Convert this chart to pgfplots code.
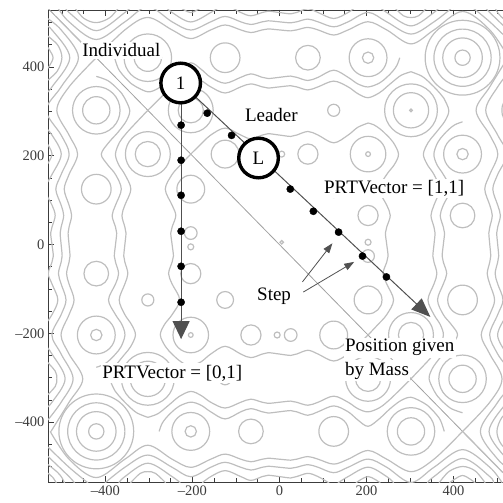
\documentclass[border=0pt]{standalone}
\usepackage{pgfplots}
\pgfplotsset{compat=1.18}
\usepackage{pgfplotstable}
\usepackage{fontspec}
\setmainfont{Liberation Serif}
\usetikzlibrary{arrows.meta}
\definecolor{ring}{RGB}{190,190,190}
\definecolor{axisgray}{RGB}{60,60,60}
\definecolor{linegray}{RGB}{80,80,80}

\pgfplotstableread{
x y r
-421 -421 17.4
-421 -421 45
-421 -421 65
-421 -421 85
421 421 17.4
421 421 45
421 421 65
421 421 85
-421 -203.8 12.9
-421 -203.8 43
-203.8 -421 12.9
-203.8 -421 43
421 203.8 12.9
421 203.8 43
203.8 421 12.9
203.8 421 43
-421 -65.5 28
-65.5 -421 28
421 65.5 28
65.5 421 28
-421 124.8 33.7
124.8 -421 33.7
421 -124.8 33.7
-124.8 421 33.7
-421 302.5 31
-421 302.5 54
302.5 -421 31
302.5 -421 54
421 -302.5 31
421 -302.5 54
-302.5 421 31
-302.5 421 54
-203.8 -203.8 5.4
-203.8 -203.8 40.4
203.8 203.8 5.4
203.8 203.8 40.4
-203.8 -65.5 22.9
-65.5 -203.8 22.9
203.8 65.5 22.9
65.5 203.8 22.9
-203.8 -5.2 6.8
-5.2 -203.8 6.8
203.8 5.2 6.8
5.2 203.8 6.8
-203.8 25.9 14.4
25.9 -203.8 14.4
203.8 -25.9 14.4
-25.9 203.8 14.4
-203.8 124.8 31.6
124.8 -203.8 31.6
203.8 -124.8 31.6
-124.8 203.8 31.6
-203.8 302.5 28.6
-203.8 302.5 51
302.5 -203.8 28.6
302.5 -203.8 51
203.8 -302.5 28.6
203.8 -302.5 51
-302.5 203.8 28.6
-302.5 203.8 51
124.8 124.8 19.1
-124.8 -124.8 19.1
124.8 302.5 13.7
302.5 124.8 13.7
-124.8 -302.5 13.7
-302.5 -124.8 13.7
302.5 302.5 3.1
302.5 302.5 40.1
302.5 302.5 60
-302.5 -302.5 3.1
-302.5 -302.5 40.1
-302.5 -302.5 60
5.2 5.2 4
}\rings

\begin{document}
\begin{tikzpicture}
\begin{axis}[
  scale only axis, width=455pt, height=472pt,
  xmin=-532, xmax=514, ymin=-535, ymax=528.5,
  axis x line=box, axis y line=left,
  axis line style={-, draw=axisgray, line width=0.8pt},
  xtick pos=both, ytick pos=left,
  xtick={-400,-200,0,200,400}, ytick={-400,-200,0,200,400},
  minor xtick={-500,-450,...,500}, minor ytick={-500,-450,...,500},
  xticklabels={\textendash400,\textendash200,0,200,400},
  yticklabels={\textendash400,\textendash200,0,200,400},
  tick style={draw=axisgray, line width=0.7pt},
  major tick length=6pt, minor tick length=4pt,
  tick align=inside,
  ticklabel style={font=\fontsize{14.5}{16}\selectfont, text=axisgray},
  clip marker paths=true,
  cont/.style={ring, line width=1.2pt, smooth, tension=0.55},
]
% ---------- contour-like background ----------
\addplot[scatter, only marks, mark=o,
  scatter/use mapped color={draw=ring},
  mark options={line width=1.2pt},
  visualization depends on={0.44*\thisrow{r} \as \rr},
  scatter/@pre marker code/.append style={/tikz/mark size=\rr}]
  table[x=x, y=y] {\rings};
\addplot[ring!85!black, line width=0.8pt] coordinates {(-532,532) (514,-514)};

% bottom band
\addplot[cont] coordinates {(-527,-421) (-483.6,-483.6) (-421,-525.1) (-355.3,-483.6) (-302.5,-452.1) (-246.7,-483.6) (-203.8,-502.0) (-157.9,-483.6) (-124.8,-472.1) (-88.8,-483.6) (-65.5,-489.3) (-39.5,-483.6) (-25.9,-481.4) (0,-483.6) (25.9,-485.8) (39.5,-483.6) (65.5,-477.7) (88.8,-483.6) (124.8,-494.7) (157.9,-483.6) (203.8,-464.0) (246.7,-483.6) (302.5,-511.7) (355.3,-483.6) (421,-421)};
\addplot[cont] coordinates {(421,-421) (483.6,-483.6) (514,-514.1)};
\addplot[cont] coordinates {(-532,-456.3) (-483.6,-501.8) (-440,-537)};
\addplot[cont] coordinates {(-401,-537) (-355.3,-501.8) (-302.5,-474.3) (-246.7,-501.8) (-203.8,-523.1) (-157.9,-501.8) (-124.8,-490.6) (-88.8,-501.8) (-65.5,-508.0) (-39.5,-501.8) (-25.9,-499.5) (0,-501.8) (25.9,-504.1) (39.5,-501.8) (65.5,-495.9) (88.8,-501.8) (124.8,-514.0) (157.9,-501.8) (203.8,-483.4) (246.7,-501.8) (302.5,-536) (355.3,-501.8) (421,-462.0) (483.6,-501.8) (512,-537)};
\addplot[cont] coordinates {(-532,-477.3) (-483.6,-522.8) (-471,-537)};
\addplot[cont] coordinates {(-369,-537) (-355.3,-522.8) (-302.5,-492.6) (-246.7,-522.8) (-228,-537)};
\addplot[cont] coordinates {(-177.5,-537) (-157.9,-522.8) (-124.8,-509.3) (-88.8,-522.8) (-65.5,-531.4) (-39.5,-522.8) (-25.9,-519.8) (0,-522.8) (25.9,-525.9) (39.5,-522.8) (65.5,-515.5) (88.8,-522.8) (114,-537)};
\addplot[cont] coordinates {(134.7,-537) (157.9,-522.8) (203.8,-501.6) (246.7,-522.8) (262.7,-537)};
\addplot[cont] coordinates {(340,-537) (355.3,-522.8) (421,-481.9) (483.6,-522.8) (492,-537)};
\addplot[cont] coordinates {(-532,-495.5) (-510,-513.3) (-500,-525.3) (-494,-537)};
\addplot[cont] coordinates {(-342.5,-537) (-320,-515.5) (-302.5,-511.6) (-285,-515.5) (-261.3,-537)};
\addplot[cont] coordinates {(176,-537) (203.8,-522.6) (232,-537)};
\addplot[cont] coordinates {(367,-537) (390,-511.2) (421,-500) (450,-510) (473,-537)};
\addplot[cont] coordinates {(-532,-515) (-520,-525.7) (-513,-537)};
\addplot[cont] coordinates {(391,-537) (421,-520.4) (450,-537)};

% top band
\addplot[cont] coordinates {(527,421) (483.6,483.6) (421,525.1) (355.3,483.6) (302.5,452.1) (246.7,483.6) (203.8,502.0) (157.9,483.6) (124.8,472.1) (88.8,483.6) (65.5,489.3) (39.5,483.6) (25.9,481.4) (0,483.6) (-25.9,485.8) (-39.5,483.6) (-65.5,477.7) (-88.8,483.6) (-124.8,494.7) (-157.9,483.6) (-203.8,464.0) (-246.7,483.6) (-302.5,511.7) (-355.3,483.6) (-421,421)};
\addplot[cont] coordinates {(-421,421) (-483.6,483.6) (-514,514.1)};
\addplot[cont] coordinates {(532,456.3) (483.6,501.8) (440,537)};
\addplot[cont] coordinates {(401,537) (355.3,501.8) (302.5,474.3) (246.7,501.8) (203.8,523.1) (157.9,501.8) (124.8,490.6) (88.8,501.8) (65.5,508.0) (39.5,501.8) (25.9,499.5) (0,501.8) (-25.9,504.1) (-39.5,501.8) (-65.5,495.9) (-88.8,501.8) (-124.8,514.0) (-157.9,501.8) (-203.8,483.4) (-246.7,501.8) (-302.5,536) (-355.3,501.8) (-421,462.0) (-483.6,501.8) (-512,537)};
\addplot[cont] coordinates {(532,477.3) (483.6,522.8) (471,537)};
\addplot[cont] coordinates {(369,537) (355.3,522.8) (302.5,492.6) (246.7,522.8) (228,537)};
\addplot[cont] coordinates {(177.5,537) (157.9,522.8) (124.8,509.3) (88.8,522.8) (65.5,531.4) (39.5,522.8) (25.9,519.8) (0,522.8) (-25.9,525.9) (-39.5,522.8) (-65.5,515.5) (-88.8,522.8) (-114,537)};
\addplot[cont] coordinates {(-134.7,537) (-157.9,522.8) (-203.8,501.6) (-246.7,522.8) (-262.7,537)};
\addplot[cont] coordinates {(-340,537) (-355.3,522.8) (-421,481.9) (-483.6,522.8) (-492,537)};
\addplot[cont] coordinates {(532,495.5) (510,513.3) (500,525.3) (494,537)};
\addplot[cont] coordinates {(342.5,537) (320,515.5) (302.5,511.6) (285,515.5) (261.3,537)};
\addplot[cont] coordinates {(-176,537) (-203.8,522.6) (-232,537)};
\addplot[cont] coordinates {(-367,537) (-390,511.2) (-421,500) (-450,510) (-473,537)};

% left band
\addplot[cont] coordinates {(-525.1,-421) (-483.6,-355.3) (-452.1,-302.5) (-483.6,-246.7) (-502.0,-203.8) (-483.6,-157.9) (-472.1,-124.8) (-483.6,-88.8) (-489.3,-65.5) (-483.6,-39.5) (-481.4,-25.9) (-483.6,0) (-485.8,25.9) (-483.6,39.5) (-477.7,65.5) (-483.6,88.8) (-494.7,124.8) (-483.6,157.9) (-464.0,203.8) (-483.6,246.7) (-511.7,302.5) (-483.6,355.3) (-421,421)};
\addplot[cont] coordinates {(-537,-401) (-501.8,-355.3) (-474.3,-302.5) (-501.8,-246.7) (-523.1,-203.8) (-501.8,-157.9) (-490.6,-124.8) (-501.8,-88.8) (-508.0,-65.5) (-501.8,-39.5) (-499.5,-25.9) (-501.8,0) (-504.1,25.9) (-501.8,39.5) (-495.9,65.5) (-501.8,88.8) (-514.0,124.8) (-501.8,157.9) (-483.4,203.8) (-501.8,246.7) (-536,302.5) (-501.8,355.3) (-462.0,421) (-501.8,483.6) (-537,512)};
\addplot[cont] coordinates {(-537,-369) (-522.8,-355.3) (-492.6,-302.5) (-522.8,-246.7) (-537,-228)};
\addplot[cont] coordinates {(-537,-177.5) (-522.8,-157.9) (-509.3,-124.8) (-522.8,-88.8) (-531.4,-65.5) (-522.8,-39.5) (-519.8,-25.9) (-522.8,0) (-525.9,25.9) (-522.8,39.5) (-515.5,65.5) (-522.8,88.8) (-537,114)};
\addplot[cont] coordinates {(-537,134.7) (-522.8,157.9) (-501.6,203.8) (-522.8,246.7) (-537,262.7)};
\addplot[cont] coordinates {(-537,340) (-522.8,355.3) (-481.9,421) (-522.8,483.6) (-537,492)};
\addplot[cont] coordinates {(-537,-342.5) (-515.5,-320) (-511.6,-302.5) (-515.5,-285) (-537,-261.3)};
\addplot[cont] coordinates {(-537,176) (-522.6,203.8) (-537,232)};
\addplot[cont] coordinates {(-537,367) (-511.2,390) (-500,421) (-510,450) (-537,473)};
\addplot[cont] coordinates {(-537,391) (-520.4,421) (-537,450)};

% right band
\addplot[cont] coordinates {(525.1,421) (483.6,355.3) (452.1,302.5) (483.6,246.7) (502.0,203.8) (483.6,157.9) (472.1,124.8) (483.6,88.8) (489.3,65.5) (483.6,39.5) (481.4,25.9) (483.6,0) (485.8,-25.9) (483.6,-39.5) (477.7,-65.5) (483.6,-88.8) (494.7,-124.8) (483.6,-157.9) (464.0,-203.8) (483.6,-246.7) (511.7,-302.5) (483.6,-355.3) (421,-421)};
\addplot[cont] coordinates {(537,401) (501.8,355.3) (474.3,302.5) (501.8,246.7) (523.1,203.8) (501.8,157.9) (490.6,124.8) (501.8,88.8) (508.0,65.5) (501.8,39.5) (499.5,25.9) (501.8,0) (504.1,-25.9) (501.8,-39.5) (495.9,-65.5) (501.8,-88.8) (514.0,-124.8) (501.8,-157.9) (483.4,-203.8) (501.8,-246.7) (536,-302.5) (501.8,-355.3) (462.0,-421) (501.8,-483.6) (537,-512)};
\addplot[cont] coordinates {(537,-340) (522.8,-355.3) (481.9,-421) (522.8,-483.6) (537,-492)};
\addplot[cont] coordinates {(537,-367) (511.2,-390) (500,-421) (510,-450) (537,-473)};
\addplot[cont] coordinates {(537,342.5) (515.5,320) (511.6,302.5) (515.5,285) (537,261.3)};
\addplot[cont] coordinates {(537,-134.7) (522.8,-157.9) (501.6,-203.8) (522.8,-246.7) (537,-262.7)};

% inner bands next to the outer extrema
\addplot[cont] coordinates {(-302.5,-389.4) (-326.4,-380) (-339.6,-370) (-355.3,-355.3) (-369.7,-340) (-377.8,-330) (-389.4,-302.5) (-381.5,-280) (-366.4,-260) (-355.3,-246.7) (-342.0,-230) (-330.9,-203.8) (-340.1,-180) (-355.3,-157.9) (-368.3,-124.8) (-355.3,-88.8) (-348.4,-65.5) (-355.3,-39.5) (-357.8,-25.9) (-355.3,0) (-352.7,25.9) (-355.3,39.5) (-362.0,65.5) (-355.3,88.8) (-341.5,124.8) (-355.3,157.9) (-369.6,180) (-377.0,203.8) (-367.8,230) (-355.3,246.7) (-343.5,260) (-324.3,280) (-302.5,302.5)};
\addplot[cont] coordinates {(-302.5,-389.4) (-280,-381.5) (-260,-366.4) (-246.7,-355.3) (-230,-342.0) (-203.8,-330.9) (-180,-340.1) (-157.9,-355.3) (-124.8,-368.3) (-88.8,-355.3) (-65.5,-348.4) (-39.5,-355.3) (-25.9,-357.8) (0,-355.3) (25.9,-352.7) (39.5,-355.3) (65.5,-362.0) (88.8,-355.3) (124.8,-341.5) (157.9,-355.3) (180,-369.6) (203.8,-377.0) (230,-367.8) (246.7,-355.3) (260,-343.5) (280,-324.3) (302.5,-302.5)};
\addplot[cont] coordinates {(302.5,389.4) (326.4,380) (339.6,370) (355.3,355.3) (369.7,340) (377.8,330) (389.4,302.5) (381.5,280) (366.4,260) (355.3,246.7) (342.0,230) (330.9,203.8) (340.1,180) (355.3,157.9) (368.3,124.8) (355.3,88.8) (348.4,65.5) (355.3,39.5) (357.8,25.9) (355.3,0) (352.7,-25.9) (355.3,-39.5) (362.0,-65.5) (355.3,-88.8) (341.5,-124.8) (355.3,-157.9) (369.6,-180) (377.0,-203.8) (367.8,-230) (355.3,-246.7) (343.5,-260) (324.3,-280) (302.5,-302.5)};
\addplot[cont] coordinates {(302.5,389.4) (280,381.5) (260,366.4) (246.7,355.3) (230,342.0) (203.8,330.9) (180,340.1) (157.9,355.3) (124.8,368.3) (88.8,355.3) (65.5,348.4) (39.5,355.3) (25.9,357.8) (0,355.3) (-25.9,352.7) (-39.5,355.3) (-65.5,362.0) (-88.8,355.3) (-124.8,341.5) (-157.9,355.3) (-180,369.6) (-203.8,377.0) (-230,367.8) (-246.7,355.3) (-260,343.5) (-280,324.3) (-302.5,302.5)};
\addplot[cont] coordinates {(-421,-276.6) (-403.5,-270) (-390,-260) (-376.8,-246.7) (-363.9,-230) (-355.1,-203.8) (-362.1,-180) (-376.8,-157.9) (-392.9,-124.8) (-376.8,-88.8) (-369.7,-65.5) (-376.8,-39.5) (-379.6,-25.9) (-376.8,0) (-374.1,25.9) (-376.8,39.5) (-384.6,65.5) (-376.8,88.8) (-363.5,124.8) (-376.8,157.9) (-395.0,180) (-409.5,203.8) (-392.3,230) (-376.8,246.7) (-365.3,260) (-351.1,280) (-344.1,302.5) (-355.8,330) (-362.1,340) (-376.8,355.3) (-395.6,370) (-421,379)};
\addplot[cont] coordinates {(-276.6,-421) (-270,-403.5) (-260,-390) (-246.7,-376.8) (-230,-363.9) (-203.8,-355.1) (-180,-362.1) (-157.9,-376.8) (-124.8,-392.9) (-88.8,-376.8) (-65.5,-369.7) (-39.5,-376.8) (-25.9,-379.6) (0,-376.8) (25.9,-374.1) (39.5,-376.8) (65.5,-384.6) (88.8,-376.8) (124.8,-363.5) (157.9,-376.8) (180,-395.0) (203.8,-409.5) (230,-392.3) (246.7,-376.8) (260,-365.3) (280,-351.1) (302.5,-344.1) (330,-355.8) (340,-362.1) (355.3,-376.8) (370,-395.6) (379,-421)};
\addplot[cont] coordinates {(421,276.6) (403.5,270) (390,260) (376.8,246.7) (363.9,230) (355.1,203.8) (362.1,180) (376.8,157.9) (392.9,124.8) (376.8,88.8) (369.7,65.5) (376.8,39.5) (379.6,25.9) (376.8,0) (374.1,-25.9) (376.8,-39.5) (384.6,-65.5) (376.8,-88.8) (363.5,-124.8) (376.8,-157.9) (395.0,-180) (409.5,-203.8) (392.3,-230) (376.8,-246.7) (365.3,-260) (351.1,-280) (344.1,-302.5) (355.8,-330) (362.1,-340) (376.8,-355.3) (395.6,-370) (421,-379)};
\addplot[cont] coordinates {(276.6,421) (270,403.5) (260,390) (246.7,376.8) (230,363.9) (203.8,355.1) (180,362.1) (157.9,376.8) (124.8,392.9) (88.8,376.8) (65.5,369.7) (39.5,376.8) (25.9,379.6) (0,376.8) (-25.9,374.1) (-39.5,376.8) (-65.5,384.6) (-88.8,376.8) (-124.8,363.5) (-157.9,376.8) (-180,395.0) (-203.8,409.5) (-230,392.3) (-246.7,376.8) (-260,365.3) (-280,351.1) (-302.5,344.1) (-330,355.8) (-340,362.1) (-355.3,376.8) (-370,395.6) (-379,421)};
% second inner bands
\addplot[cont] coordinates {(-203.8,-273.8) (-216.6,-270) (-232.0,-260) (-246.7,-246.7) (-261.8,-230) (-273.8,-203.8) (-264.1,-180) (-246.7,-157.9) (-229.2,-124.8) (-246.7,-88.8) (-254.8,-65.5) (-246.7,-39.5) (-243.6,-25.9) (-246.7,0) (-249.8,25.9) (-246.7,39.5) (-238.2,65.5) (-246.7,88.8) (-262.4,124.8) (-246.7,157.9) (-226.7,180) (-203.8,203.8)};
\addplot[cont] coordinates {(-203.8,-273.8) (-180,-264.1) (-157.9,-246.7) (-124.8,-229.2) (-88.8,-246.7) (-65.5,-254.8) (-39.5,-246.7) (-25.9,-243.6) (0,-246.7) (25.9,-249.8) (39.5,-246.7) (65.5,-238.2) (88.8,-246.7) (124.8,-262.4) (157.9,-246.7) (180,-226.7) (203.8,-203.8)};
\addplot[cont] coordinates {(203.8,273.8) (216.6,270) (232.0,260) (246.7,246.7) (261.8,230) (273.8,203.8) (264.1,180) (246.7,157.9) (229.2,124.8) (246.7,88.8) (254.8,65.5) (246.7,39.5) (243.6,25.9) (246.7,0) (249.8,-25.9) (246.7,-39.5) (238.2,-65.5) (246.7,-88.8) (262.4,-124.8) (246.7,-157.9) (226.7,-180) (203.8,-203.8)};
\addplot[cont] coordinates {(203.8,273.8) (180,264.1) (157.9,246.7) (124.8,229.2) (88.8,246.7) (65.5,254.8) (39.5,246.7) (25.9,243.6) (0,246.7) (-25.9,249.8) (-39.5,246.7) (-65.5,238.2) (-88.8,246.7) (-124.8,262.4) (-157.9,246.7) (-180,226.7) (-203.8,203.8)};

% ---------- trajectories ----------
\addplot[linegray, line width=1pt, -{Triangle[length=18pt,width=17pt]}]
  coordinates {(-226,364) (-226,-213)};
\addplot[linegray, line width=1pt, -{Triangle[length=19pt,width=15pt]}]
  coordinates {(-227,364) (347,-163)};
\addplot[linegray, line width=0.8pt, -{Triangle[length=10pt,width=7pt]}]
  coordinates {(53,-84) (122,3)};
\addplot[linegray, line width=0.8pt, -{Triangle[length=10pt,width=7pt]}]
  coordinates {(55,-107) (172,-39)};

\addplot[only marks, mark=*, mark size=3.6pt, black] coordinates {
  (-226,269) (-226,190) (-226,111) (-226,30) (-226,-49) (-226,-130)
  (-166,296) (-110,246) (25,125) (78,75) (136,28) (191,-26) (246,-73)
};

\addplot[only marks, mark=*, mark size=19.8pt,
  mark options={draw=black, fill=white, line width=3.4pt},
  point meta=explicit symbolic, nodes near coords,
  nodes near coords style={anchor=center, font=\fontsize{19}{22}\selectfont, text=black}]
  coordinates {(-227,364) [1] (-48,195) [L]};

\tikzset{lbl/.style={anchor=base west, fill=white, inner sep=1.5pt, font=\fontsize{19}{22}\selectfont, text=black}}
\node[lbl] at (axis cs:-457,423) {Individual};
\node[lbl] at (axis cs:-83,278) {Leader};
\node[lbl] at (axis cs:99,114) {PRTVector = [1,1]};
\node[lbl] at (axis cs:-55,-125) {Step};
\node[lbl] at (axis cs:147,-242) {Position given};
\node[lbl] at (axis cs:147,-294) {by Mass};
\node[lbl] at (axis cs:-411,-301) {PRTVector = [0,1]};
\end{axis}
\pgfresetboundingbox
\path[use as bounding box] ([shift={(-48pt,-20pt)}]current axis.south west) rectangle ([shift={(0pt,10pt)}]current axis.north east);
\end{tikzpicture}
\end{document}
